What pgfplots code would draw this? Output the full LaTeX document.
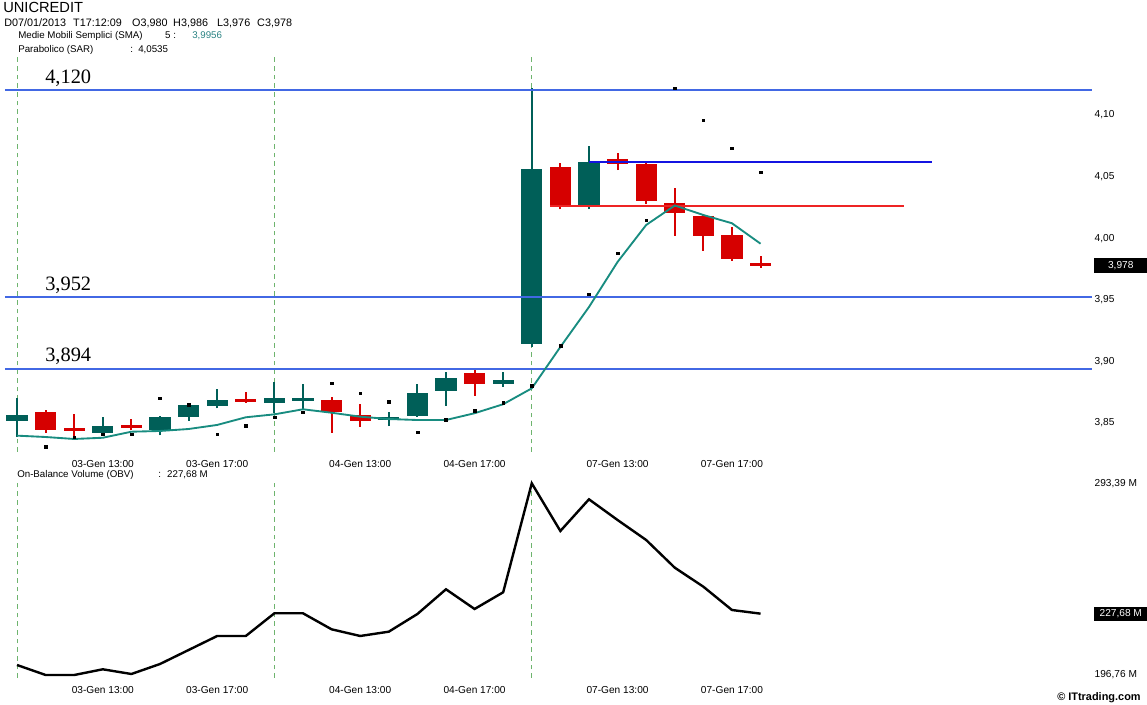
\documentclass[border=0pt]{standalone}
\usepackage{pgfplots}
\pgfplotsset{compat=1.18}
\usepackage{pgfplotstable}
\usepackage{fontspec}
\setmainfont{Liberation Sans}
\newfontfamily\seriffont{Liberation Serif}

\definecolor{cgreen}{RGB}{0,95,88}
\definecolor{cred}{RGB}{214,0,0}
\definecolor{smacol}{RGB}{24,140,128}
\definecolor{hblue}{RGB}{66,104,228}
\definecolor{dblue}{RGB}{20,20,225}
\definecolor{hred}{RGB}{238,36,36}
\definecolor{dashg}{RGB}{110,180,110}
\definecolor{tealtxt}{RGB}{40,130,130}

\pgfplotstableread{
i open high low close
0 3.8520 3.8706 3.8390 3.8566
3 3.8420 3.8550 3.8400 3.8480
5 3.8440 3.8560 3.8400 3.8550
6 3.8547 3.8660 3.8520 3.8650
7 3.8640 3.8777 3.8620 3.8690
9 3.8666 3.8830 3.8580 3.8706
10 3.8682 3.8815 3.8606 3.8706
13 3.8523 3.8590 3.8476 3.8547
14 3.8560 3.8815 3.8550 3.8747
15 3.8763 3.8912 3.8640 3.8869
17 3.8817 3.8912 3.8796 3.8850
18 3.9140 4.1220 3.9120 4.0560
20 4.0265 4.0750 4.0235 4.0620
}\greentab

\pgfplotstableread{
i open high low close
1 3.8590 3.8610 3.8420 3.8440
2 3.8452 3.8570 3.8370 3.8440
4 3.8485 3.8530 3.8440 3.8460
8 3.8690 3.8755 3.8666 3.8680
11 3.8690 3.8710 3.8420 3.8593
12 3.8566 3.8655 3.8470 3.8520
16 3.8910 3.8930 3.8720 3.8817
19 4.0580 4.0609 4.0235 4.0256
21 4.0644 4.0690 4.0554 4.0600
22 4.0600 4.0609 4.0278 4.0300
23 4.0284 4.0406 4.0019 4.0203
24 4.0180 4.0190 3.9897 4.0020
25 4.0027 4.0089 3.9818 3.9832
26 3.9800 3.9860 3.9760 3.9780
}\redtab

\pgfplotstableread{
i sma
0 3.8398
1 3.8387
2 3.8371
3 3.8381
4 3.8430
5 3.8436
6 3.8452
7 3.8485
8 3.8547
9 3.8571
10 3.8612
11 3.8584
12 3.8552
13 3.8533
14 3.8525
15 3.8525
16 3.8580
17 3.8653
18 3.8782
19 3.9118
20 3.9442
21 3.9808
22 4.0108
23 4.0266
24 4.0189
25 4.0122
26 3.9956
}\smatab

\pgfplotstableread{
i sar
1 3.8308
2 3.8385
3 3.8409
4 3.8409
5 3.8701
6 3.8647
7 3.8409
8 3.8476
9 3.8547
10 3.8588
11 3.8823
12 3.8742
13 3.8674
14 3.8425
15 3.8525
16 3.8602
17 3.8667
18 3.8805
19 3.9126
20 3.9545
21 3.9878
22 4.0146
23 4.1218
24 4.0958
25 4.0731
26 4.0536
}\sartab

\pgfplotstableread{
i obv
0 201.80
1 196.76
2 196.76
3 199.63
4 197.26
5 202.30
6 209.36
7 216.42
8 216.42
9 227.86
10 227.86
11 219.79
12 216.42
13 218.59
14 227.50
15 239.96
16 230.03
17 238.45
18 293.39
19 269.35
20 285.32
21 274.89
22 264.81
23 250.85
24 241.27
25 229.52
26 227.68
}\obvtab

\pgfplotsset{
  chartbase/.style={
    anchor=south west, scale only axis, width=815.25pt,
    xmin=-0.42, xmax=37.59,
    axis x line*=bottom, axis y line*=right,
    axis line style={draw=none}, major tick length=0pt,
    xtick={3,7,12,16,21,25},
    xticklabels={03-Gen 13:00,03-Gen 17:00,04-Gen 13:00,04-Gen 17:00,07-Gen 13:00,07-Gen 17:00},
    tick label style={font=\fontsize{7.6}{9}\selectfont},
    xticklabel style={yshift=-2.6pt},
    yticklabel style={anchor=west, xshift=-1.5pt},
    extra x ticks={0,9,18}, extra x tick labels={},
    extra x tick style={grid=major, major grid style={dashg, line width=0.6pt, dash pattern=on 3.5pt off 3pt}},
    clip=false,
  },
  wick/.style={draw=none, mark=none, forget plot,
    error bars/.cd, y dir=plus, y explicit, error mark=none,
    error bar style={draw=#1, line width=1.5pt}},
  body/.style={draw=none, mark=none, forget plot,
    error bars/.cd, y dir=both, y explicit, error mark=none,
    error bar style={draw=#1, line width=16pt}},
}

\begin{document}
\begin{tikzpicture}
\useasboundingbox (0,0) rectangle (860.25pt,528.75pt);

% price panel
\begin{axis}[chartbase,
  at={(3.75pt,189.75pt)}, height=296.25pt,
  ymin=3.82654, ymax=4.14716,
  ytick={3.85,3.90,3.95,4.00,4.05,4.10},
  yticklabels={{3,85},{3,90},{3,95},{4,00},{4,05},{4,10}},
]
\addplot[wick=cgreen] table[x=i, y=low, y error expr={\thisrow{high}-\thisrow{low}}] {\greentab};
\addplot[wick=cred] table[x=i, y=low, y error expr={\thisrow{high}-\thisrow{low}}] {\redtab};
\addplot[body=cgreen] table[x=i, y expr={(\thisrow{open}+\thisrow{close})/2}, y error expr={max(abs(\thisrow{close}-\thisrow{open})/2,0.0011)}] {\greentab};
\addplot[body=cred] table[x=i, y expr={(\thisrow{open}+\thisrow{close})/2}, y error expr={max(abs(\thisrow{close}-\thisrow{open})/2,0.0011)}] {\redtab};

\addplot[hblue, line width=1.5pt, mark=none] coordinates {(-0.42,4.120) (37.59,4.120)};
\addplot[hblue, line width=1.5pt, mark=none] coordinates {(-0.42,3.952) (37.59,3.952)};
\addplot[hblue, line width=1.5pt, mark=none] coordinates {(-0.42,3.894) (37.59,3.894)};
\addplot[dblue, line width=1.5pt, mark=none] coordinates {(20,4.0617) (32,4.0617)};
\addplot[hred, line width=1.3pt, mark=none] coordinates {(18.65,4.0262) (31,4.0262)};

\addplot[smacol, line width=1.4pt, mark=none] table[x=i, y=sma] {\smatab};
\addplot[only marks, mark=square*, mark size=1.05pt, black] table[x=i, y=sar] {\sartab};

\node[fill=black, text=white, anchor=west, minimum width=39.75pt, minimum height=11pt, inner sep=0pt, font=\fontsize{7.6}{9}\selectfont] at (axis cs:37.66,3.978) {3,978};
\end{axis}

% OBV panel
\begin{axis}[chartbase,
  at={(3.75pt,20.25pt)}, height=147.75pt,
  ymin=195.25, ymax=294.55,
  ytick={196.76,293.39},
  yticklabels={{196,76 M},{293,39 M}},
]
\addplot[black, line width=1.8pt, mark=none] table[x=i, y=obv] {\obvtab};
\node[fill=black, text=white, anchor=west, minimum width=39.75pt, minimum height=10.5pt, inner sep=0pt, font=\fontsize{7.6}{9}\selectfont] at (axis cs:37.66,227.68) {227,68 M};
\end{axis}

\begin{scope}[x=0.75pt, y=0.75pt]
\node[anchor=base west, inner sep=0, font=\fontsize{11}{13}\selectfont] at (3,{705-13}) {UNICREDIT};
\node[anchor=base west, inner sep=0, font=\fontsize{8.1}{10}\selectfont] at (4,{705-27}) {\makebox[51.75pt][l]{D07/01/2013}\makebox[44.25pt][l]{T17:12:09}\makebox[30.75pt][l]{O3,980}\makebox[33pt][l]{H3,986}\makebox[30pt][l]{L3,976}C3,978};
\begin{scope}[every node/.style={anchor=base west, inner sep=0, font=\fontsize{7.3}{9}\selectfont}]
\node at (18,{705-38.5}) {\makebox[110.25pt][l]{Medie Mobili Semplici (SMA)}\makebox[20.25pt][l]{5 :}\textcolor{tealtxt}{3,9956}};
\node at (18,{705-52.5}) {\makebox[84pt][l]{Parabolico (SAR)}\makebox[6pt][l]{:}4,0535};
\node at (17,{705-478}) {\makebox[105.75pt][l]{On-Balance Volume (OBV)}\makebox[6.75pt][l]{:}227,68 M};
\end{scope}
\begin{scope}[every node/.style={anchor=base west, inner sep=0, font=\seriffont\fontsize{15.3}{17}\selectfont}]
\node at (45,{705-84}) {4,120};
\node at (45,{705-291}) {3,952};
\node at (45,{705-362}) {3,894};
\end{scope}
\node[anchor=base west, inner sep=0, font=\bfseries\fontsize{8.2}{10}\selectfont] at (1057,{705-701}) {© ITtrading.com};
\end{scope}
\end{tikzpicture}
\end{document}
